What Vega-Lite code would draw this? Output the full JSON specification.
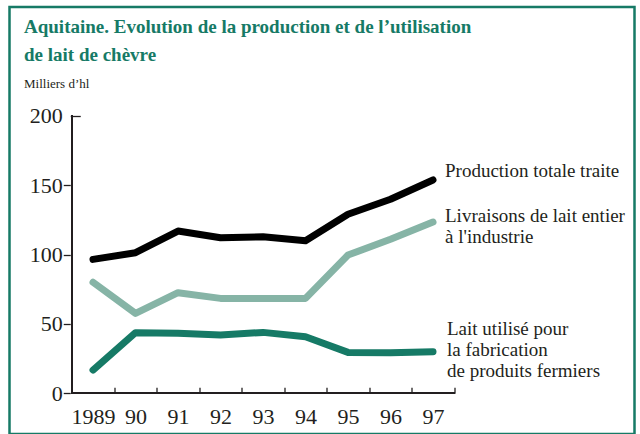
{
  "$schema": "https://vega.github.io/schema/vega-lite/v6.json",
  "autosize": {"type": "none"},
  "padding": {"left": 9.5, "top": 7, "right": 5.5, "bottom": 0},
  "width": 625,
  "height": 427,
  "background": "white",
  "config": {
    "view": {"stroke": "#167a66", "strokeWidth": 2.5},
    "font": "Liberation Serif",
    "text": {"font": "Liberation Serif"},
    "axis": {"labelFont": "Liberation Serif", "labelColor": "#231f20", "tickColor": "#231f20", "tickWidth": 1.3, "grid": false, "domain": false, "title": null}
  },
  "title": {
    "text": ["Aquitaine. Evolution de la production et de l’utilisation", "de lait de chèvre"],
    "subtitle": "Milliers d’hl",
    "anchor": "start",
    "frame": "group",
    "orient": "top",
    "offset": -84,
    "dx": 14.5,
    "font": "Liberation Serif",
    "fontSize": 19,
    "fontWeight": "bold",
    "color": "#167a66",
    "lineHeight": 28,
    "subtitleFont": "Liberation Serif",
    "subtitleFontSize": 13,
    "subtitleColor": "#231f20",
    "subtitlePadding": 13
  },
  "data": {
    "values": [
      {"year": 1989, "series": "Production totale traite", "value": 96.5},
      {"year": 1990, "series": "Production totale traite", "value": 101.3},
      {"year": 1991, "series": "Production totale traite", "value": 116.9},
      {"year": 1992, "series": "Production totale traite", "value": 112.1},
      {"year": 1993, "series": "Production totale traite", "value": 112.8},
      {"year": 1994, "series": "Production totale traite", "value": 109.9},
      {"year": 1995, "series": "Production totale traite", "value": 129.0},
      {"year": 1996, "series": "Production totale traite", "value": 139.8},
      {"year": 1997, "series": "Production totale traite", "value": 153.7},
      {"year": 1989, "series": "Livraisons de lait entier\nà l'industrie", "value": 80.0},
      {"year": 1990, "series": "Livraisons de lait entier\nà l'industrie", "value": 57.6},
      {"year": 1991, "series": "Livraisons de lait entier\nà l'industrie", "value": 72.5},
      {"year": 1992, "series": "Livraisons de lait entier\nà l'industrie", "value": 68.4},
      {"year": 1993, "series": "Livraisons de lait entier\nà l'industrie", "value": 68.4},
      {"year": 1994, "series": "Livraisons de lait entier\nà l'industrie", "value": 68.4},
      {"year": 1995, "series": "Livraisons de lait entier\nà l'industrie", "value": 99.6},
      {"year": 1996, "series": "Livraisons de lait entier\nà l'industrie", "value": 111.0},
      {"year": 1997, "series": "Livraisons de lait entier\nà l'industrie", "value": 123.4},
      {"year": 1989, "series": "Lait utilisé pour\nla fabrication\nde produits fermiers", "value": 16.8},
      {"year": 1990, "series": "Lait utilisé pour\nla fabrication\nde produits fermiers", "value": 43.7},
      {"year": 1991, "series": "Lait utilisé pour\nla fabrication\nde produits fermiers", "value": 43.2},
      {"year": 1992, "series": "Lait utilisé pour\nla fabrication\nde produits fermiers", "value": 42.0},
      {"year": 1993, "series": "Lait utilisé pour\nla fabrication\nde produits fermiers", "value": 43.9},
      {"year": 1994, "series": "Lait utilisé pour\nla fabrication\nde produits fermiers", "value": 40.8},
      {"year": 1995, "series": "Lait utilisé pour\nla fabrication\nde produits fermiers", "value": 29.5},
      {"year": 1996, "series": "Lait utilisé pour\nla fabrication\nde produits fermiers", "value": 29.3},
      {"year": 1997, "series": "Lait utilisé pour\nla fabrication\nde produits fermiers", "value": 30.0}
    ]
  },
  "encoding": {
    "x": {
      "field": "year",
      "type": "quantitative",
      "scale": {"domain": [1987.035, 2001.741], "nice": false, "zero": false},
      "axis": {
        "values": [1989.5, 1990.5, 1991.5, 1992.5, 1993.5, 1994.5, 1995.5, 1996.5, 1997.5],
        "labelExpr": "datum.value == 1989.5 ? '1989' : slice(toString(datum.value - 0.5), 2)",
        "labelOffset": -21.25,
        "tickSize": -6,
        "labelPadding": 19,
        "labelFontSize": 22,
        "labelBaseline": "top",
        "offset": -40.7,
        "labelFlush": false,
        "labelOverlap": false
      }
    },
    "y": {
      "field": "value",
      "type": "quantitative",
      "scale": {"domain": [-29.3, 278.3], "nice": false, "zero": false},
      "axis": {
        "values": [0, 50, 100, 150, 200],
        "tickSize": {"condition": {"test": "datum.value == 200", "value": -10}, "value": 7},
        "labelPadding": {"condition": {"test": "datum.value == 200", "value": 18}, "value": 1},
        "labelFontSize": 22,
        "offset": -60.75,
        "labelOverlap": false
      }
    }
  },
  "layer": [
    {
      "mark": {"type": "line", "strokeWidth": 7, "strokeCap": "round", "strokeJoin": "round"},
      "encoding": {
        "color": {
          "field": "series",
          "type": "nominal",
          "scale": {
            "domain": ["Production totale traite", "Livraisons de lait entier\nà l'industrie", "Lait utilisé pour\nla fabrication\nde produits fermiers"],
            "range": ["#000000", "#86b4a6", "#167a66"]
          },
          "legend": null
        }
      }
    },
    {
      "mark": {"type": "rule", "color": "#231f20", "strokeWidth": 1.5},
      "encoding": {
        "x": {"datum": 1988.5},
        "x2": {"datum": 1997.5},
        "y": {"datum": 0}
      }
    },
    {
      "mark": {"type": "rule", "color": "#231f20", "strokeWidth": 1.5},
      "encoding": {
        "x": {"datum": 1988.5},
        "y": {"datum": 0},
        "y2": {"datum": 200}
      }
    },
    {
      "transform": [{"filter": "datum.year == 1997 && datum.value > 140"}],
      "mark": {"type": "text", "font": "Liberation Serif", "align": "left", "baseline": "alphabetic", "dx": 12, "dy": -3, "fontSize": 19, "lineHeight": 21, "lineBreak": "\n", "color": "#231f20"},
      "encoding": {"text": {"field": "series", "type": "nominal"}}
    },
    {
      "transform": [{"filter": "datum.year == 1997 && datum.value > 100 && datum.value < 140"}],
      "mark": {"type": "text", "font": "Liberation Serif", "align": "left", "baseline": "alphabetic", "dx": 12, "dy": 0, "fontSize": 19, "lineHeight": 21, "lineBreak": "\n", "color": "#231f20"},
      "encoding": {"text": {"field": "series", "type": "nominal"}}
    },
    {
      "transform": [{"filter": "datum.year == 1997 && datum.value < 50"}],
      "mark": {"type": "text", "font": "Liberation Serif", "align": "left", "baseline": "alphabetic", "dx": 14, "dy": -16.7, "fontSize": 19, "lineHeight": 21, "lineBreak": "\n", "color": "#231f20"},
      "encoding": {"text": {"field": "series", "type": "nominal"}}
    }
  ]
}
